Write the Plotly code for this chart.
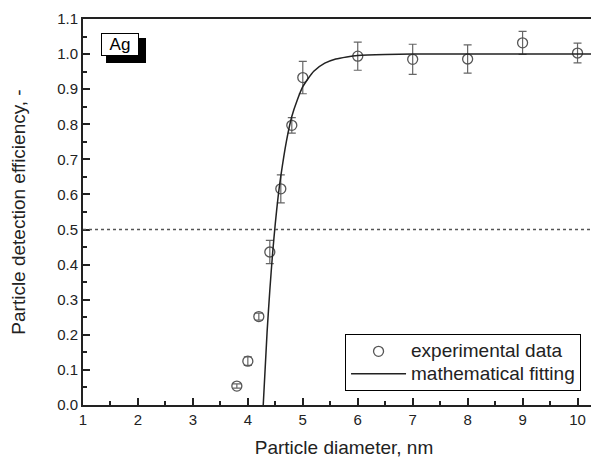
import plotly.graph_objects as go

# Experimental data
diam = [3.8, 4.0, 4.2, 4.4, 4.6, 4.8, 5.0, 6.0, 7.0, 8.0, 9.0, 10.0]
eff = [0.054, 0.125, 0.252, 0.436, 0.616, 0.797, 0.933, 0.994, 0.985, 0.986, 1.032, 1.003]
err = [0.006, 0.012, 0.010, 0.033, 0.040, 0.022, 0.046, 0.040, 0.043, 0.040, 0.033, 0.028]

# Fitted curve
fit_x = [4.28, 4.35, 4.40, 4.45, 4.50, 4.55, 4.60, 4.70, 4.80, 4.90, 5.00, 5.20, 5.40, 5.60, 5.80, 6.00, 6.50, 7.00, 8.00, 9.00, 10.00, 10.50]
fit_y = [0.000, 0.207, 0.327, 0.431, 0.518, 0.592, 0.652, 0.750, 0.822, 0.869, 0.907, 0.951, 0.974, 0.986, 0.992, 0.996, 0.999, 1.000, 1.000, 1.000, 1.000, 1.000]

x_ticks = [1, 2, 3, 4, 5, 6, 7, 8, 9, 10]
y_ticks = [0.0, 0.1, 0.2, 0.3, 0.4, 0.5, 0.6, 0.7, 0.8, 0.9, 1.0, 1.1]

FONT = "Liberation Sans, Arial, sans-serif"
INK = "#222222"

fig = go.Figure()
fig.add_trace(go.Scatter(
    x=diam, y=eff, mode="markers",
    name='<span style="font-size:19px">experimental data</span>',
    marker=dict(symbol="circle-open", size=10, color="#555555", line=dict(width=1.3, color="#555555")),
    error_y=dict(type="data", array=err, visible=True, color="#666666", thickness=1.2, width=4)))
fig.add_trace(go.Scatter(
    x=fit_x, y=fit_y, mode="lines",
    name='<span style="font-size:19px">mathematical fitting</span>',
    line=dict(color=INK, width=1.5, shape="spline", smoothing=0.6)))

fig.add_shape(type="line", xref="paper", yref="y", x0=0, x1=1, y0=0.5, y1=0.5,
              line=dict(color="#555555", width=1.5, dash="dot"))

# Ag label shadow
fig.add_shape(type="rect", xref="paper", yref="paper", x0=0.0441, x1=0.1207, y0=0.886, y1=0.951,
              fillcolor="black", line=dict(width=0))
fig.add_annotation(x=0.0716, y=0.933, xref="paper", yref="paper", text="Ag", showarrow=False,
                   xanchor="center", yanchor="middle", width=36, height=21,
                   bgcolor="white", bordercolor="black", borderwidth=1, borderpad=0,
                   font=dict(family=FONT, size=17, color="black"))

axis_common = dict(
    showline=True, linecolor=INK, linewidth=2,
    ticks="inside", ticklen=7, tickwidth=2, tickcolor=INK,
    showgrid=False, zeroline=False, automargin=False,
    tickfont=dict(family=FONT, size=15, color=INK),
)

fig.update_xaxes(range=[1, 10.5], tickvals=x_ticks, mirror=True,
                 minor=dict(dtick=0.5, ticks="inside", ticklen=4, tickwidth=1.5, tickcolor=INK),
                 title=dict(text="Particle diameter, nm", font=dict(family=FONT, size=19, color=INK), standoff=14),
                 **axis_common)
fig.update_yaxes(range=[0, 1.1], tickvals=y_ticks, tickformat=".1f", mirror="ticks",
                 minor=dict(dtick=0.05, ticks="inside", ticklen=4, tickwidth=1.5, tickcolor=INK),
                 title=dict(text="Particle detection efficiency, -", font=dict(family=FONT, size=19, color=INK), standoff=26),
                 **axis_common)

fig.update_layout(
    width=599, height=457,
    margin=dict(l=75, r=2, t=11, b=60),
    paper_bgcolor="white", plot_bgcolor="white",
    font=dict(family=FONT, color=INK),
    legend=dict(x=0.502, y=0.036, xanchor="left", yanchor="bottom",
                bgcolor="white", bordercolor="black", borderwidth=1,
                font=dict(family=FONT, size=15, color=INK),
                traceorder="normal", tracegroupgap=0, itemwidth=55),
)

fig.write_html("out.html")
